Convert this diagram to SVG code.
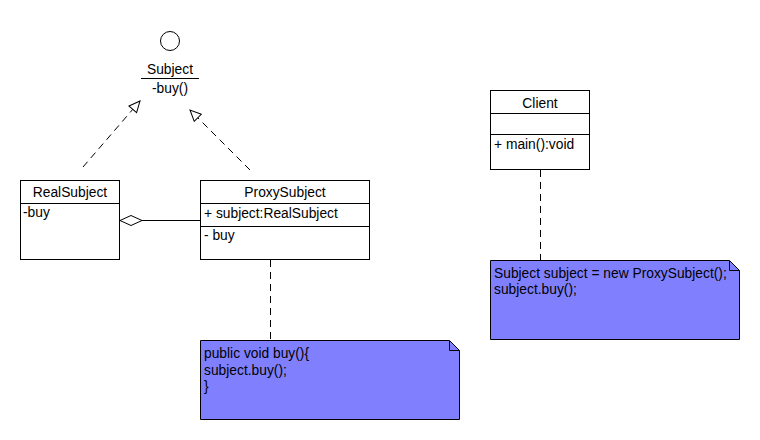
<svg xmlns="http://www.w3.org/2000/svg" width="760" height="440" viewBox="0 0 760 440">
<style>
text{font-family:"Liberation Sans",Arial,sans-serif;font-size:13.8px;fill:#000}
.box{fill:#fff;stroke:#000;stroke-width:1}
.note{fill:#8080ff;stroke:#000;stroke-width:1}
.ln{stroke:#000;stroke-width:1;fill:none}
.dash{stroke:#000;stroke-width:1;fill:none;stroke-dasharray:7,5}
.c{text-anchor:middle}
</style>
<defs>
<marker id="tri" markerWidth="14" markerHeight="14" refX="12" refY="6" orient="auto" markerUnits="userSpaceOnUse">
<path d="M1,1 L12,6 L1,11 Z" fill="#fff" stroke="#000" stroke-width="1"/>
</marker>
<marker id="dia" markerWidth="26" markerHeight="14" refX="1" refY="7" orient="auto" markerUnits="userSpaceOnUse">
<path d="M1,7 L12,2 L23,7 L12,12 Z" fill="#fff" stroke="#000" stroke-width="1"/>
</marker>
</defs>
<rect width="760" height="440" fill="#fff"/>
<g id="Subject">
<circle cx="170" cy="41" r="9.5" fill="#fff" stroke="#000"/>
<text class="c" x="170" y="74">Subject</text>
<line class="ln" x1="141" y1="78.5" x2="199" y2="78.5"/>
<text class="c" x="170" y="93">-buy()</text>
</g>
<g id="RealSubject">
<rect class="box" x="20.5" y="180.5" width="99" height="79"/>
<line class="ln" x1="20.5" y1="203.5" x2="119.5" y2="203.5"/>
<text class="c" x="70" y="197">RealSubject</text>
<text x="23" y="217">-buy</text>
</g>
<g id="ProxySubject">
<rect class="box" x="200.5" y="180.5" width="169" height="79"/>
<line class="ln" x1="200.5" y1="203.5" x2="369.5" y2="203.5"/>
<line class="ln" x1="200.5" y1="226.5" x2="369.5" y2="226.5"/>
<text class="c" x="285" y="197">ProxySubject</text>
<text x="204" y="218">+ subject:RealSubject</text>
<text x="204" y="240">- buy</text>
</g>
<g id="Client">
<rect class="box" x="490.5" y="90.5" width="99" height="79"/>
<line class="ln" x1="490.5" y1="113.5" x2="589.5" y2="113.5"/>
<line class="ln" x1="490.5" y1="134.5" x2="589.5" y2="134.5"/>
<text class="c" x="540" y="108">Client</text>
<text x="494" y="149">+ main():void</text>
</g>
<g id="note1">
<path class="note" d="M200.5,340.5 H449.5 L459.5,350.5 V419.5 H200.5 Z"/>
<path class="ln" d="M449.5,340.5 V350.5 H459.5"/>
<text x="204" y="358">public void buy(){</text>
<text x="204" y="375">subject.buy();</text>
<text x="204" y="391">}</text>
</g>
<g id="note2">
<path class="note" d="M490.5,260.5 H729.5 L739.5,270.5 V339.5 H490.5 Z"/>
<path class="ln" d="M729.5,260.5 V270.5 H739.5"/>
<text x="494" y="278">Subject subject = new ProxySubject();</text>
<text x="494" y="294">subject.buy();</text>
</g>
<g id="connectors">
<line class="dash" x1="83" y1="167" x2="140" y2="101" marker-end="url(#tri)"/>
<line class="dash" x1="250" y1="170" x2="190" y2="110" marker-end="url(#tri)"/>
<line class="ln" x1="120" y1="220.5" x2="200" y2="220.5" marker-start="url(#dia)"/>
<line class="dash" x1="270.5" y1="260" x2="270.5" y2="340"/>
<line class="dash" x1="540.5" y1="170" x2="540.5" y2="260"/>
</g>
</svg>
